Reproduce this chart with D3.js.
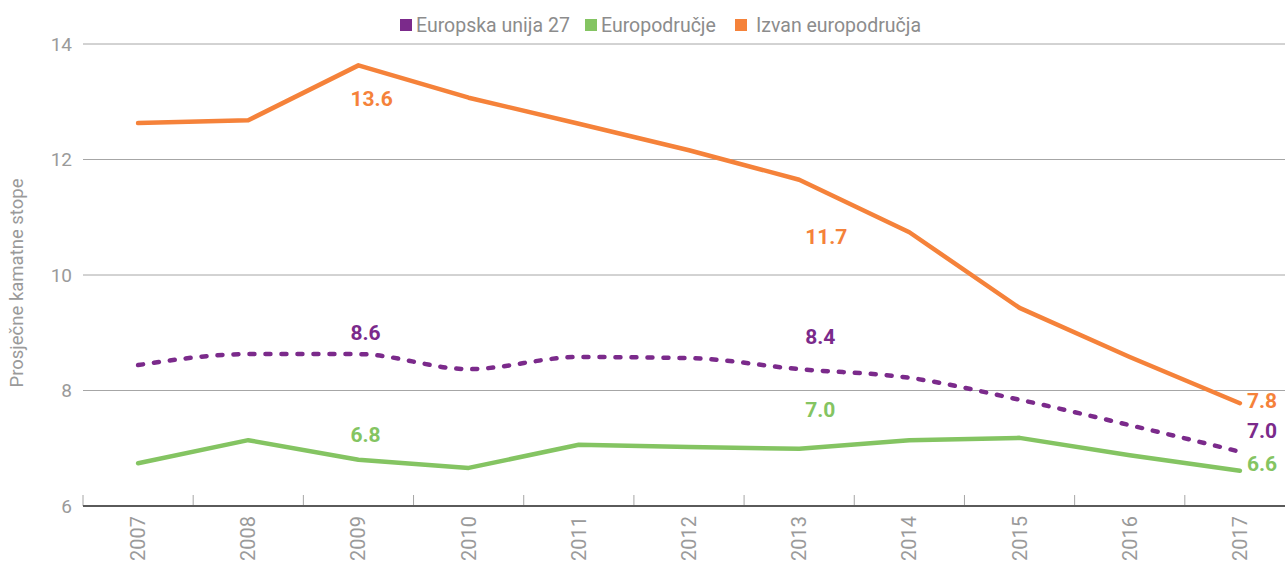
<!DOCTYPE html>
<meta charset="utf-8">
<style>
body { margin: 0; background: #fff; }
svg { font-family: Roboto, "Open Sans", sans-serif; }
.grid line { stroke: #a6a6a6; stroke-width: 1px; }
.tick-label { fill: #9a9a9a; font-size: 19px; }
.line { fill: none; stroke-width: 4.5px; stroke-linecap: round; stroke-linejoin: round; }
.val { font-weight: bold; font-size: 21px; }
</style>
<svg width="1285" height="562"></svg>
<script src="https://d3js.org/d3.v7.min.js"></script>
<script>

var years = [2007, 2008, 2009, 2010, 2011, 2012, 2013, 2014, 2015, 2016, 2017];
var yTicks = [6, 8, 10, 12, 14];

var eu27 = [8.44, 8.63, 8.63, 8.37, 8.58, 8.56, 8.37, 8.22, 7.84, 7.40, 6.94];
var euroArea = [6.74, 7.14, 6.80, 6.66, 7.06, 7.02, 6.99, 7.14, 7.18, 6.88, 6.61];
var nonEuro = [12.63, 12.68, 13.63, 13.07, 12.62, 12.16, 11.65, 10.74, 9.43, 8.58, 7.78];

var seriesNames = ["Europska unija 27", "Europodručje", "Izvan europodručja"];

// labelled values: series index, year, text
var labels = [
  {s: 2, year: 2009, text: "13.6"},
  {s: 2, year: 2013, text: "11.7"},
  {s: 0, year: 2009, text: "8.6"},
  {s: 0, year: 2013, text: "8.4"},
  {s: 1, year: 2009, text: "6.8"},
  {s: 1, year: 2013, text: "7.0"},
  {s: 2, year: 2017, text: "7.8"},
  {s: 0, year: 2017, text: "7.0"},
  {s: 1, year: 2017, text: "6.6"}
];
// offsets of those labels from their point (px), same order
var labelOffsets = [[-8, 33], [6, 57], [-8, -21], [6, -32], [-8, -25], [6, -39], [7, -3], [7, -21], [7, -7]];

var colors = ["#7b2a8b", "#84c462", "#f5823a"];

var svg = d3.select("svg"),
    margin = {top: 44, left: 83, bottom: 506},
    plotRight = 1295;

var x = d3.scaleBand().domain(years).range([margin.left, plotRight]),
    y = d3.scaleLinear().domain([6, 14]).range([margin.bottom, margin.top]);

var series = [eu27, euroArea, nonEuro].map(function(v, i) {
  return {name: seriesNames[i], color: colors[i], values: v.map(function(d, j) { return {year: years[j], value: d}; })};
});

// grid lines
var grid = svg.append("g").attr("class", "grid");
grid.selectAll("line").data(yTicks.slice(1)).enter().append("line")
    .attr("x1", margin.left).attr("x2", 1285)
    .attr("y1", function(d) { return y(d); }).attr("y2", function(d) { return y(d); });

svg.append("g").selectAll("text").data(yTicks).enter().append("text")
    .attr("class", "tick-label")
    .attr("x", 72).attr("y", function(d) { return y(d); })
    .attr("dy", "0.35em").attr("text-anchor", "end")
    .text(function(d) { return d; });

svg.append("text")
    .attr("transform", "translate(23," + (y(10) + 8) + ") rotate(-90)")
    .attr("text-anchor", "middle")
    .attr("fill", "#9a9a9a").style("font-size", "18.5px")
    .text("Prosječne kamatne stope");

// x axis
svg.append("g").selectAll("line").data(years.concat(["end"])).enter().append("line")
    .attr("x1", function(d) { return d === "end" ? plotRight : x(d); })
    .attr("x2", function(d) { return d === "end" ? plotRight : x(d); })
    .attr("y1", margin.bottom).attr("y2", margin.bottom - 11)
    .attr("stroke", "#a6a6a6").attr("stroke-width", 1);

svg.append("line")
    .attr("x1", margin.left).attr("x2", 1285)
    .attr("y1", margin.bottom).attr("y2", margin.bottom)
    .attr("stroke", "#5a5a5a").attr("stroke-width", 2);

svg.append("g").selectAll("text").data(years).enter().append("text")
    .attr("class", "tick-label")
    .style("font-size", "20px")
    .attr("transform", function(d) { return "translate(" + (x(d) + x.bandwidth() / 2) + "," + (margin.bottom + 10) + ") rotate(-90)"; })
    .attr("dy", "0.35em").attr("text-anchor", "end")
    .text(function(d) { return d; });

// lines
var line = d3.line()
    .x(function(d) { return x(d.year) + x.bandwidth() / 2; })
    .y(function(d) { return y(d.value); });

[1, 2, 0].forEach(function(i) {
  var s = series[i];
  svg.append("path")
      .attr("class", "line")
      .attr("d", line.curve(i === 0 ? d3.curveMonotoneX : d3.curveLinear)(s.values))
      .attr("stroke", s.color)
      .attr("stroke-width", i === 0 ? 5 : null)
      .attr("stroke-dasharray", i === 0 ? "5,11" : null);
});

// value labels
svg.append("g").selectAll("text").data(labels).enter().append("text")
    .attr("class", "val")
    .attr("fill", function(d) { return colors[d.s]; })
    .attr("x", function(d, i) { return x(d.year) + x.bandwidth() / 2 + labelOffsets[i][0]; })
    .attr("y", function(d, i) {
      var v = series[d.s].values[years.indexOf(d.year)].value;
      return y(v) + labelOffsets[i][1];
    })
    .attr("dy", "0.35em")
    .text(function(d) { return d.text; });

// legend
var legendX = [400, 585, 735];
var lg = svg.append("g").selectAll("g").data(series).enter().append("g")
    .attr("transform", function(d, i) { return "translate(" + legendX[i] + ",19)"; });
lg.append("rect").attr("width", 12).attr("height", 12).attr("fill", function(d) { return d.color; });
lg.append("text")
    .attr("x", function(d, i) { return i === 2 ? 21 : 16; }).attr("y", 6).attr("dy", "0.35em")
    .attr("fill", "#8c8c8c").style("font-size", "19.5px")
    .text(function(d) { return d.name; });

</script>
